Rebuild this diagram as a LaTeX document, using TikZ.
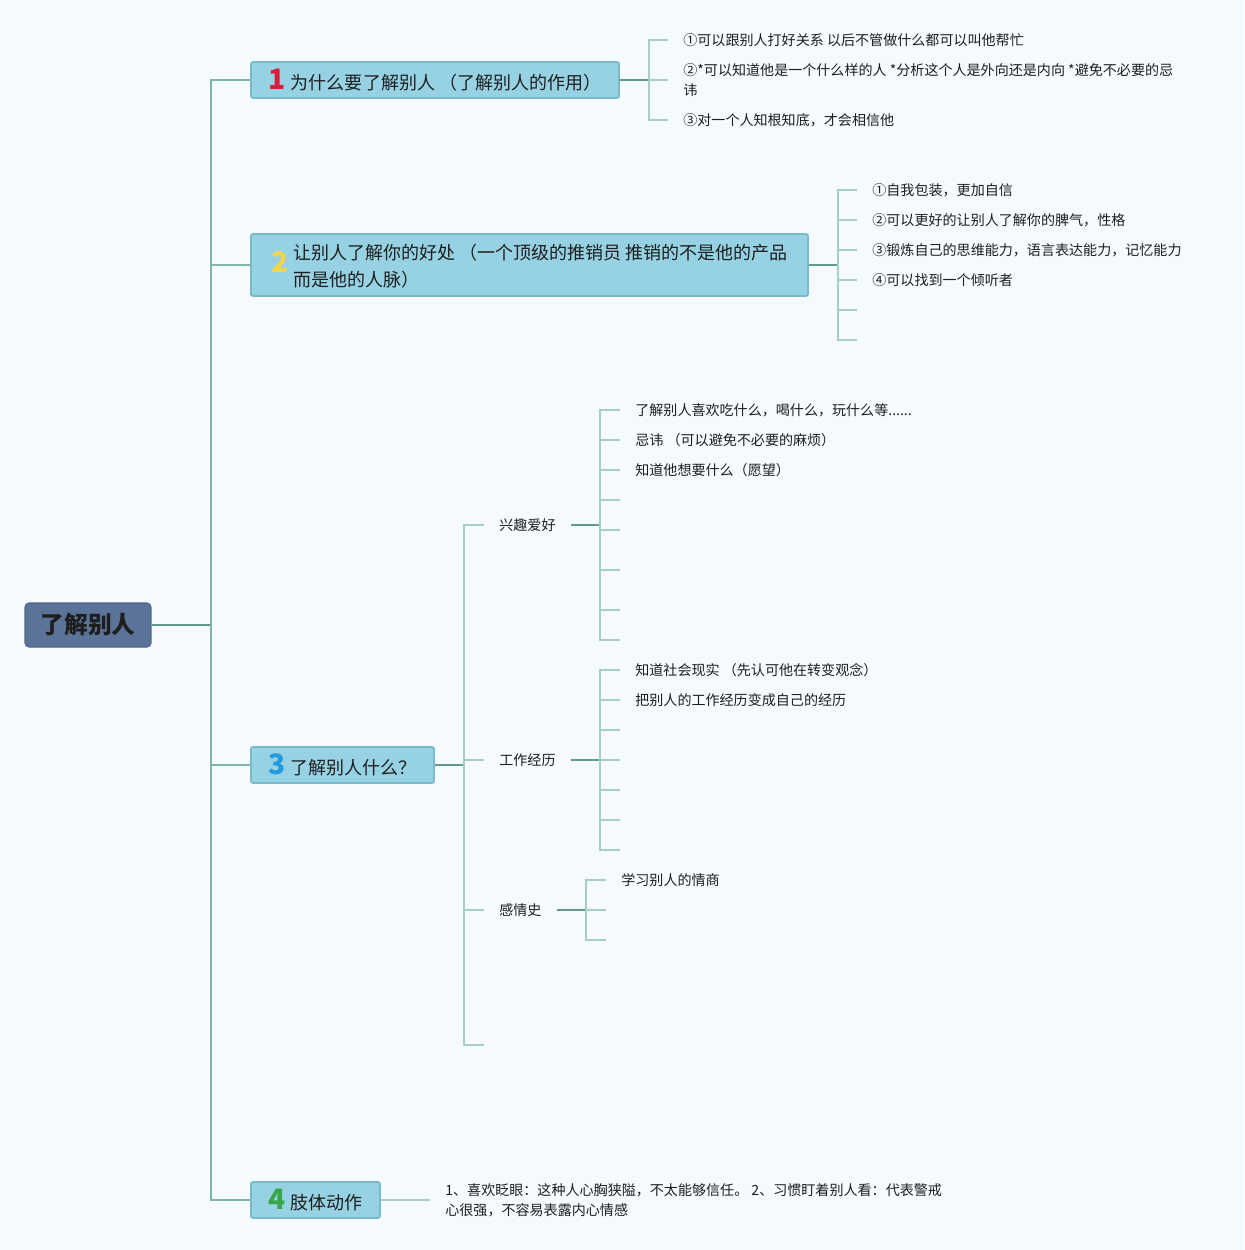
\documentclass[tikz,border=0pt]{standalone}
\usepackage{fontspec}
\setmainfont{Noto Sans CJK SC}
\definecolor{bgcol}{RGB}{245,250,254}
\definecolor{topicfill}{RGB}{150,210,228}
\definecolor{topicline}{RGB}{122,186,198}
\definecolor{rootfill}{RGB}{91,115,153}
\definecolor{rootline}{RGB}{78,101,138}
\definecolor{darkbranch}{RGB}{96,155,140}
\definecolor{midbranch}{RGB}{128,182,170}
\definecolor{lightbranch}{RGB}{164,206,198}
\definecolor{leaftext}{RGB}{30,30,30}
\definecolor{numred}{RGB}{214,32,58}
\definecolor{numyellow}{RGB}{242,214,72}
\definecolor{numblue}{RGB}{34,154,222}
\definecolor{numgreen}{RGB}{58,166,74}
\newcommand{\topicnum}[2]{{\fontsize{16}{16}\selectfont\bfseries\color{#1}#2}\hspace{0.1cm}}
\begin{document}
\begin{tikzpicture}[x=0.02cm,y=-0.02cm,
    rootbox/.style={draw=rootline,fill=rootfill,rounded corners=0.08cm,line width=0.6pt,
      minimum width=2.52cm,minimum height=0.88cm,inner sep=0pt,
      font=\fontsize{13.5}{16}\selectfont\bfseries,text=leaftext},
    topic/.style={draw=topicline,fill=topicfill,line width=1pt,rounded corners=0.04cm,
      inner sep=0pt,minimum height=0.72cm,font=\fontsize{10.25}{15.2}\selectfont,text=leaftext},
    leaf/.style={anchor=west,inner xsep=0.3cm,inner ysep=0pt,align=left,
      font=\fontsize{8}{11.4}\selectfont,text=leaftext},
    stub/.style={draw=darkbranch,line width=1.3pt},
    mainline/.style={draw=midbranch,line width=1pt},
    tick/.style={draw=lightbranch,line width=0.9pt}]
    % \clip (0,0) rectangle (1244,1250);
    \fill[bgcol] (0,0) rectangle (1244,1250);%

    % Marking root and the main bus
    \node[rootbox] (root) at (88,625) {了解别人};%
    \coordinate (m) at (211,625);%
    \draw[stub] (root.east) -- (m);%

    % Marking the four topics
    \node[topic,minimum width=7.36cm] (t1) at (435,80)
      {\topicnum{numred}{1}为什么要了解别人 （了解别人的作用）};%
    \node[topic,minimum width=11.14cm,minimum height=1.24cm] (t2) at (529.5,265)
      {\raisebox{-4pt}[0pt][0pt]{\topicnum{numyellow}{2}\begin{tabular}{@{}l@{}}让别人了解你的好处 （一个顶级的推销员 推销的不是他的产品\\而是他的人脉）\end{tabular}}};%
    \node[topic,minimum width=3.66cm] (t3) at (342.5,765) {\topicnum{numblue}{3}了解别人什么？};%
    \node[topic,minimum width=2.58cm] (t4) at (315.5,1200) {\topicnum{numgreen}{4}肢体动作};%
    \foreach \t in {t1,t2,t3,t4}
      \draw[mainline] (m) |- (\t.west);%

    % Drawing branch 1
    \coordinate (b1) at (649,80);%
    \draw[stub] (t1.east) -- (b1);%
    \node[leaf] (c11) at (668,40) {①可以跟别人打好关系 以后不管做什么都可以叫他帮忙};%
    \node[leaf] (c12) at (668,80) {②*可以知道他是一个什么样的人 *分析这个人是外向还是内向 *避免不必要的忌\\讳};%
    \node[leaf] (c13) at (668,120) {③对一个人知根知底，才会相信他};%
    \foreach \c in {c11,c12,c13}
      \draw[tick] (b1) |- (\c.west);%

    % Drawing branch 2
    \coordinate (b2) at (838,265);%
    \draw[stub] (t2.east) -- (b2);%
    \node[leaf] (c21) at (857,190) {①自我包装，更加自信};%
    \node[leaf] (c22) at (857,220) {②可以更好的让别人了解你的脾气，性格};%
    \node[leaf] (c23) at (857,250) {③锻炼自己的思维能力，语言表达能力，记忆能力};%
    \node[leaf] (c24) at (857,280) {④可以找到一个倾听者};%
    \coordinate (c25) at (857,310);%
    \coordinate (c26) at (857,340);%
    \foreach \c in {c21,c22,c23,c24}
      \draw[tick] (b2) |- (\c.west);%
    \foreach \c in {c25,c26}
      \draw[tick] (b2) |- (\c);%

    % Drawing branch 3
    \coordinate (b3) at (464,765);%
    \draw[stub] (t3.east) -- (b3);%
    \node[leaf] (s1) at (484,525) {兴趣爱好};%
    \node[leaf] (s2) at (484,760) {工作经历};%
    \node[leaf] (s3) at (484,910) {感情史};%
    \coordinate (s4) at (484,1045);%
    \foreach \s in {s1,s2,s3}
      \draw[tick] (b3) |- (\s.west);%
    \draw[tick] (b3) |- (s4);%

    % Drawing hobbies
    \coordinate (h) at (600,525);%
    \draw[stub] (s1.east) -- (h);%
    \node[leaf] (h1) at (620,410) {了解别人喜欢吃什么，喝什么，玩什么等......};%
    \node[leaf] (h2) at (620,440) {忌讳 （可以避免不必要的麻烦）};%
    \node[leaf] (h3) at (620,470) {知道他想要什么（愿望）};%
    \foreach \c in {h1,h2,h3}
      \draw[tick] (h) |- (\c.west);%
    \foreach \y [count=\i] in {500,530,570,610,640} {
      \coordinate (he\i) at (620,\y);%
      \draw[tick] (h) |- (he\i);%
    }

    % Drawing work history
    \coordinate (w) at (600,760);%
    \draw[stub] (s2.east) -- (w);%
    \node[leaf] (w1) at (620,670) {知道社会现实 （先认可他在转变观念）};%
    \node[leaf] (w2) at (620,700) {把别人的工作经历变成自己的经历};%
    \foreach \c in {w1,w2}
      \draw[tick] (w) |- (\c.west);%
    \foreach \y [count=\i] in {730,760,790,820,850} {
      \coordinate (we\i) at (620,\y);%
      \draw[tick] (w) |- (we\i);%
    }

    % Drawing love history
    \coordinate (g) at (586,910);%
    \draw[stub] (s3.east) -- (g);%
    \node[leaf] (g1) at (606,880) {学习别人的情商};%
    \coordinate (g2) at (606,910);%
    \coordinate (g3) at (606,940);%
    \draw[tick] (g) |- (g1.west);%
    \draw[tick] (g) |- (g2);%
    \draw[tick] (g) |- (g3);%

    % Drawing branch 4
    \node[leaf] (f1) at (430,1200) {1、喜欢眨眼：这种人心胸狭隘，不太能够信任。 2、习惯盯着别人看：代表警戒\\心很强，不容易表露内心情感};%
    \draw[tick] (t4.east) -- (f1.west);%
\end{tikzpicture}
\end{document}
